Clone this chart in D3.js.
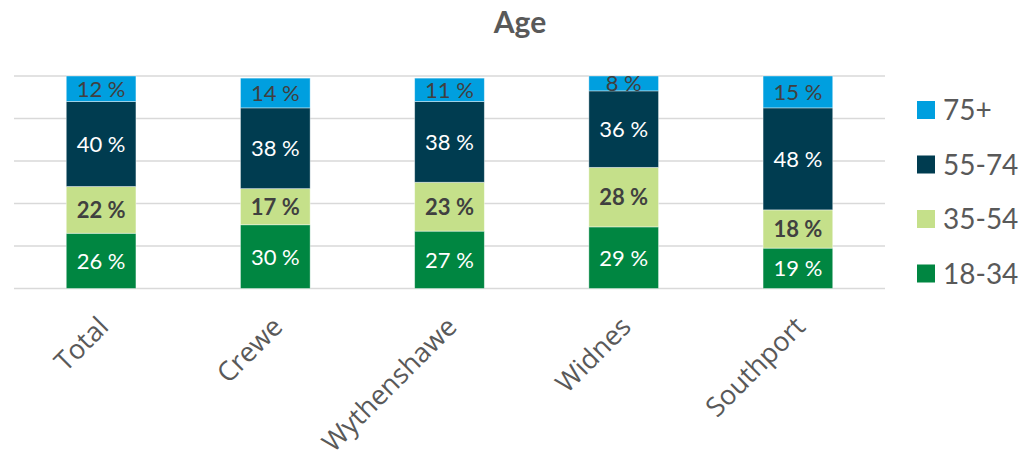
<!DOCTYPE html>
<html lang="en">
<head>
<meta charset="utf-8">
<title>Age</title>
<script src="https://cdn.jsdelivr.net/npm/d3@7"></script>
<style>
  body { margin: 0; background: #fff; }
</style>
</head>
<body>
<script>
// data
var categories = ["Total", "Crewe", "Wythenshawe", "Widnes", "Southport"];
var groups = ["18-34", "35-54", "55-74", "75+"];
var v1834 = [26, 30, 27, 29, 19];
var v3554 = [22, 17, 23, 28, 18];
var v5574 = [40, 38, 38, 36, 48];
var v75 = [12, 14, 11, 8, 15];
var yTicks = [0, 20, 40, 60, 80, 100];

var colors = { "18-34": "#008641", "35-54": "#c5e08a", "55-74": "#003c50", "75+": "#009fdf" };
var labelColors = { "18-34": "#ffffff", "35-54": "#404040", "55-74": "#ffffff", "75+": "#404040" };
var labelWeights = { "18-34": "normal", "35-54": "bold", "55-74": "normal", "75+": "normal" };

var w = 1023, h = 459;
var plotLeft = 14, plotRight = 885, plotTop = 76, plotBottom = 288.5;

var rows = categories.map(function(c, i) {
  return { cat: c, "18-34": v1834[i], "35-54": v3554[i], "55-74": v5574[i], "75+": v75[i] };
});
var series = d3.stack().keys(groups)(rows);

var x = d3.scaleBand().domain(categories).range([plotLeft, plotRight]).paddingInner(0.6).paddingOuter(0.3);
var y = d3.scaleLinear().domain([0, 100]).range([plotBottom, plotTop]).clamp(true);

var svg = d3.select("body").append("svg").attr("width", w).attr("height", h);

// gridlines
svg.append("g").selectAll("line").data(yTicks).enter().append("line")
  .attr("x1", plotLeft).attr("x2", plotRight)
  .attr("y1", function(d) { return y(d); }).attr("y2", function(d) { return y(d); })
  .attr("stroke", "#d9d9d9").attr("stroke-width", 1.5);

// bars
var layer = svg.append("g").selectAll("g").data(series).enter().append("g")
  .attr("fill", function(d) { return colors[d.key]; });

layer.selectAll("rect").data(function(d) { return d; }).enter().append("rect")
  .attr("x", function(d) { return x(d.data.cat); })
  .attr("width", x.bandwidth())
  .attr("y", function(d) { return y(d[1]); })
  .attr("height", function(d) { return y(d[0]) - y(d[1]); })
  .attr("stroke", "#ffffff").attr("stroke-opacity", 0.5).attr("stroke-width", 0.8);

// data labels
svg.append("g").selectAll("g").data(series).enter().append("g")
  .each(function(s) {
    d3.select(this).selectAll("text").data(s).enter().append("text")
      .attr("x", function(d) { return x(d.data.cat) + x.bandwidth() / 2; })
      .attr("y", function(d) { return (y(d[0]) + y(d[1])) / 2; })
      .attr("dy", "0.36em")
      .attr("text-anchor", "middle")
      .attr("font-family", "Lato, 'Open Sans', sans-serif")
      .attr("font-size", "22px")
      .attr("font-weight", labelWeights[s.key])
      .attr("fill", labelColors[s.key])
      .text(function(d) { return (d[1] - d[0]) + " %"; });
  });

// x axis labels
var xAxis = d3.axisBottom(x).tickSize(0).tickPadding(0);
var gx = svg.append("g").attr("transform", "translate(0," + plotBottom + ")").call(xAxis);
gx.select(".domain").remove();
gx.selectAll(".tick text")
  .attr("font-family", "'Open Sans', sans-serif")
  .attr("font-size", "27px")
  .attr("fill", "#595959")
  .attr("text-anchor", "end")
  .attr("dy", 0)
  .attr("y", 0)
  .attr("transform", "translate(9,40) rotate(-45)");

// title
svg.append("text")
  .attr("x", 520).attr("y", 33)
  .attr("text-anchor", "middle")
  .attr("font-family", "Lato, sans-serif")
  .attr("font-size", "30px")
  .attr("font-weight", "bold")
  .attr("fill", "#595959")
  .text("Age");

// legend
var legendOrder = ["75+", "55-74", "35-54", "18-34"];
var lg = svg.append("g").selectAll("g").data(legendOrder).enter().append("g")
  .attr("transform", function(d, i) { return "translate(917," + (110 + i * 54.5) + ")"; });
lg.append("rect").attr("x", 0).attr("y", -9).attr("width", 18).attr("height", 18)
  .attr("fill", function(d) { return colors[d]; });
lg.append("text").attr("x", 26).attr("y", 0).attr("dy", "0.36em")
  .attr("font-family", "Lato, sans-serif")
  .attr("font-size", "28px")
  .attr("fill", "#595959")
  .text(function(d) { return d; });
</script>
</body>
</html>
